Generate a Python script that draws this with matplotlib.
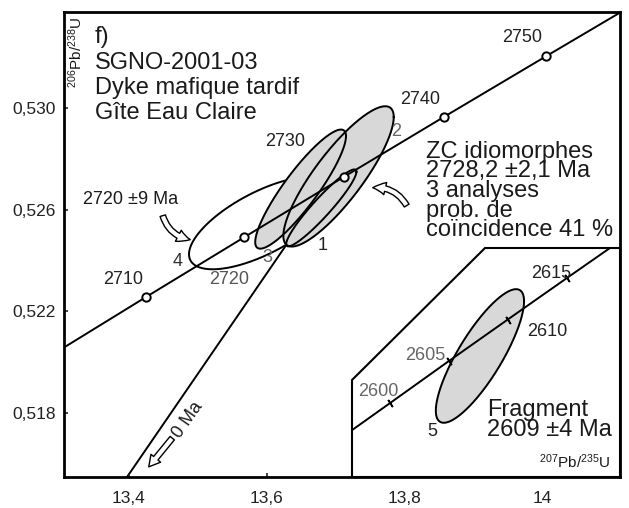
import numpy as np
import matplotlib.pyplot as plt
from matplotlib.patches import Polygon, FancyArrowPatch

plt.rcParams['font.family'] = ['Liberation Sans', 'DejaVu Sans']
plt.rcParams['mathtext.fontset'] = 'custom'
plt.rcParams['mathtext.rm'] = 'Liberation Sans'
plt.rcParams['mathtext.default'] = 'regular'

# concordia, main panel (207Pb/235U vs 206Pb/238U)
conc_age = [2690, 2700, 2710, 2720, 2730, 2740, 2750, 2760]
conc_x = [13.1434, 13.2834, 13.4247, 13.5675, 13.7117, 13.8573, 14.0043, 14.1528]
conc_y = [0.51784, 0.52020, 0.52256, 0.52492, 0.52729, 0.52966, 0.53203, 0.53441]
mark_ages = [2710, 2720, 2730, 2740, 2750]

# zircon analyses: label, centre, half-widths, correlation
ell_lab = ['4', '3', '2', '1']
ell_x = [13.593, 13.649, 13.704, 13.679]
ell_y = [0.52548, 0.52681, 0.52731, 0.52607]
ell_sx = [0.1058, 0.0658, 0.0800, 0.0509]
ell_sy = [0.001825, 0.002344, 0.002761, 0.001514]
ell_rho = [0.676, 0.889, 0.846, 0.940]
ell_fill = [False, True, True, False]

# chord towards 0 Ma
disc_x = [13.36, 13.685]
disc_y = [0.5140, 0.52686]

# inset: concordia around 2600 Ma and fragment 5
in_age = [2595, 2600, 2605, 2610, 2615, 2620]
in_x = [11.8801, 11.9437, 12.0076, 12.0718, 12.1363, 12.2012]
in_y = [0.49563, 0.49679, 0.49796, 0.49912, 0.50028, 0.50144]
in_ticks = [2600, 2605, 2610, 2615]
frag_x, frag_y, frag_sx, frag_sy, frag_rho = 12.0416, 0.498105, 0.0480, 0.001863, 0.819

xticks = [13.4, 13.6, 13.8, 14.0]
xticklabels = ['13,4', '13,6', '13,8', '14']
yticks = [0.518, 0.522, 0.526, 0.530]
yticklabels = ['0,518', '0,522', '0,526', '0,530']

GRAY = '#d8d8d8'


def ell_pts(x, y, sx, sy, r, n=300):
    t = np.linspace(0, 2 * np.pi, n)
    return x + sx * np.cos(t), y + sy * (r * np.cos(t) + np.sqrt(1 - r * r) * np.sin(t))


def fx(px):
    return px / 629


def fy(py):
    return 1 - py / 508


fig = plt.figure(figsize=(6.29, 5.08), dpi=100)
ax = fig.add_axes([fx(64), fy(477), 556 / 629, 465 / 508])
ax.set_xlim(13.306, 14.112)
ax.set_ylim(0.51548, 0.53378)

ax.plot(disc_x, disc_y, color='black', lw=1.4, zorder=1)

# ellipse 4 outline under the grey ones
ex, ey = ell_pts(ell_x[0], ell_y[0], ell_sx[0], ell_sy[0], ell_rho[0])
ax.plot(ex, ey, color='black', lw=1.4, zorder=2)
for i in range(1, 4):
    ex, ey = ell_pts(ell_x[i], ell_y[i], ell_sx[i], ell_sy[i], ell_rho[i])
    if ell_fill[i]:
        ax.fill(ex, ey, color=GRAY, zorder=3)
for i in range(1, 4):
    ex, ey = ell_pts(ell_x[i], ell_y[i], ell_sx[i], ell_sy[i], ell_rho[i])
    ax.plot(ex, ey, color='black', lw=1.4, zorder=4)

ax.plot(conc_x, conc_y, color='black', lw=1.4, zorder=5)
mx = [conc_x[conc_age.index(a)] for a in mark_ages]
my = [conc_y[conc_age.index(a)] for a in mark_ages]
ax.plot(mx, my, 'o', ms=6, mfc='white', mec='black', mew=1.4, zorder=6)

ax.set_xticks(xticks)
ax.set_xticklabels(xticklabels)
ax.set_yticks(yticks)
ax.set_yticklabels(yticklabels)
ax.tick_params(direction='in', length=3, width=1.2, labelsize=12.5, colors='#222222')
ax.tick_params(axis='x', pad=10)
ax.tick_params(axis='y', pad=6)
for s in ax.spines.values():
    s.set_linewidth(2)

# inset panel
ax_in = fig.add_axes([fx(352), fy(477), 268 / 629, 229 / 508])
ax_in.set_xlim(11.9024, 12.1940)
ax_in.set_ylim(0.49473, 0.501116)
ax_in.axis('off')
poly = Polygon([(0, 0), (0, 0.4236), (0.4963, 1), (1, 1), (1, 0)], closed=True,
               transform=ax_in.transAxes, facecolor='white', edgecolor='black', lw=1.5,
               clip_on=False, zorder=0)
ax_in.add_patch(poly)
fx5, fy5 = ell_pts(frag_x, frag_y, frag_sx, frag_sy, frag_rho)
f1 = ax_in.fill(fx5, fy5, color=GRAY, zorder=2)[0]
f2 = ax_in.plot(fx5, fy5, color='black', lw=1.4, zorder=3)[0]
l1 = ax_in.plot(in_x, in_y, color='black', lw=1.4, zorder=4)[0]
tx = [in_x[in_age.index(a)] for a in in_ticks]
ty = [in_y[in_age.index(a)] for a in in_ticks]
l2 = ax_in.plot(tx, ty, ls='none', marker=(2, 2, 33), ms=6, mec='black', mew=1.2, zorder=4)[0]
for art in (f1, f2, l1, l2):
    art.set_clip_path(poly)

# labels on the concordia
lab_style = dict(fontsize=13, ha='center', va='center')
fig.text(fx(123), fy(280), '2710', color='#222222', **lab_style)
fig.text(fx(229), fy(279), '2720', color='#555555', **lab_style)
fig.text(fx(285), fy(142), '2730', color='#222222', **lab_style)
fig.text(fx(420), fy(100), '2740', color='#222222', **lab_style)
fig.text(fx(522), fy(38), '2750', color='#222222', **lab_style)
fig.text(fx(178), fy(261), '4', color='#333333', **lab_style)
fig.text(fx(267), fy(258), '3', color='#666666', **lab_style)
fig.text(fx(396), fy(131), '2', color='#666666', **lab_style)
fig.text(fx(323), fy(246), '1', color='#222222', **lab_style)

fig.text(fx(378), fy(392), '2600', color='#666666', **lab_style)
fig.text(fx(425), fy(356), '2605', color='#666666', **lab_style)
fig.text(fx(547), fy(332), '2610', color='#222222', **lab_style)
fig.text(fx(551), fy(273), '2615', color='#222222', **lab_style)
fig.text(fx(432), fy(431), '5', color='#222222', **lab_style)

big = dict(fontsize=17, ha='left', va='center', color='#1a1a1a')
fig.text(fx(95), fy(37), 'f)', **big)
fig.text(fx(95), fy(63), 'SGNO-2001-03', **big)
fig.text(fx(95), fy(88), 'Dyke mafique tardif', **big)
fig.text(fx(95), fy(113), 'Gîte Eau Claire', **big)

fig.text(fx(426), fy(191), 'ZC idiomorphes\n2728,2 ±2,1 Ma\n3 analyses\nprob. de\ncoïncidence 41 %',
         fontsize=17, ha='left', va='center', linespacing=0.86, color='#1a1a1a')
fig.text(fx(487), fy(420), 'Fragment\n2609 ±4 Ma', fontsize=17, ha='left', va='center',
         linespacing=0.92, color='#1a1a1a')
fig.text(fx(83), fy(200), '2720 ±9 Ma', fontsize=13, ha='left', va='center', color='#1a1a1a')
fig.text(fx(188), fy(420), '0 Ma', fontsize=13, ha='center', va='center', rotation=55,
         color='#1a1a1a')

fig.text(fx(76), fy(52), '$^{206}$Pb/$^{238}$U', fontsize=11, rotation=90, ha='center',
         va='center', color='#1a1a1a')
fig.text(fx(610), fy(462), '$^{207}$Pb/$^{235}$U', fontsize=11, ha='right', va='center',
         color='#1a1a1a')

# hollow arrows
arr = dict(transform=fig.transFigure, facecolor='white', edgecolor='black', lw=1.0,
           zorder=10)
fig.patches.append(FancyArrowPatch((fx(162), fy(213)), (fx(193), fy(240)),
                                   arrowstyle='simple,head_width=9,head_length=9,tail_width=4',
                                   connectionstyle='arc3,rad=0.35', **arr))
fig.patches.append(FancyArrowPatch((fx(408), fy(208)), (fx(370), fy(188)),
                                   arrowstyle='simple,head_width=9,head_length=9,tail_width=4',
                                   connectionstyle='arc3,rad=0.35', **arr))
fig.patches.append(FancyArrowPatch((fx(174), fy(436)), (fx(147), fy(469)),
                                   arrowstyle='simple,head_width=9,head_length=8,tail_width=4',
                                   **arr))

fig.savefig('out.png', dpi=100)
